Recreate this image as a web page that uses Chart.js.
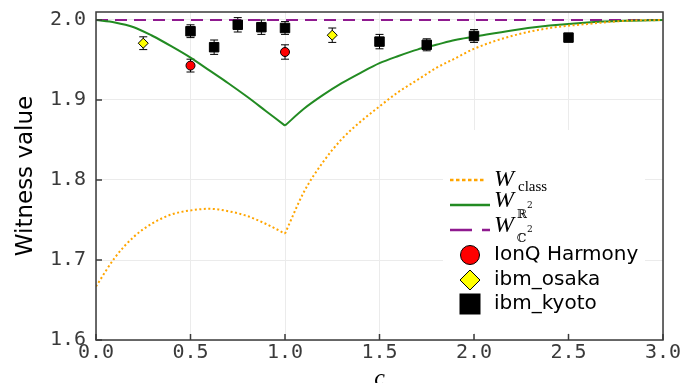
<!DOCTYPE html>
<html>
<head>
<meta charset="utf-8">
<script src="https://cdn.jsdelivr.net/npm/chart.js@4.4.1/dist/chart.umd.min.js"></script>
<style>
    html, body { margin: 0; padding: 0; background: #fff; }
    canvas { display: block; }
</style>
</head>
<body>
<canvas id="witnessChart" width="698" height="383"></canvas>
<script>
// curves (both have a kink at c = 1)
var curveC = [0, 0.1, 0.2, 0.3, 0.4, 0.5, 0.6, 0.7, 0.8, 0.9, 1.0, 1.1, 1.2, 1.3, 1.4, 1.5, 1.6, 1.7, 1.8, 1.9, 2.0, 2.2, 2.4, 2.6, 2.8, 3.0];
var wClass = [1.667, 1.703, 1.729, 1.746, 1.757, 1.762, 1.764, 1.761, 1.755, 1.745, 1.733, 1.785, 1.822, 1.851, 1.873, 1.892, 1.910, 1.925, 1.940, 1.952, 1.964, 1.980, 1.990, 1.995, 1.999, 2.000];
var wR2 = [2.000, 1.997, 1.991, 1.980, 1.967, 1.953, 1.937, 1.921, 1.904, 1.886, 1.868, 1.889, 1.906, 1.921, 1.934, 1.946, 1.955, 1.963, 1.969, 1.975, 1.979, 1.987, 1.993, 1.997, 1.999, 2.000];
var c2C = [0, 3];
var wC2 = [2.0, 2.0];

// measured points
var ionqC = [0.5, 1.0];
var ionqW = [1.943, 1.960];
var ionqErr = [0.008, 0.009];

var osakaC = [0.25, 1.25];
var osakaW = [1.971, 1.981];
var osakaErr = [0.008, 0.009];

var kyotoC = [0.5, 0.625, 0.75, 0.875, 1.0, 1.5, 1.75, 2.0, 2.5];
var kyotoW = [1.986, 1.966, 1.994, 1.991, 1.990, 1.973, 1.969, 1.980, 1.978];
var kyotoErr = [0.008, 0.009, 0.009, 0.009, 0.008, 0.009, 0.0075, 0.008, 0];

var xTicks = [0, 0.5, 1.0, 1.5, 2.0, 2.5, 3.0];
var yTicks = [1.6, 1.7, 1.8, 1.9, 2.0];

var KINK = curveC.indexOf(1.0);

function pts(xs, ys) {
    return xs.map(function (x, i) { return { x: x, y: ys[i] }; });
}
function leftOf(xs, ys) { return pts(xs.slice(0, KINK + 1), ys.slice(0, KINK + 1)); }
function rightOf(xs, ys) { return pts(xs.slice(KINK), ys.slice(KINK)); }

var AXIS = '#3a3a3a';
var TICKFONT = { family: '"DejaVu Sans Mono", monospace', size: 20 };
var ORANGE = '#ffa500', GREEN = '#228b22', PURPLE = '#8f1a8f';

// legend background + error bars, under the markers
var errorBarPlugin = {
    id: 'errorBars',
    beforeDatasetsDraw: function (chart) {
        var ctx = chart.ctx, ys = chart.scales.y, a = chart.chartArea;

        ctx.save();
        ctx.fillStyle = '#fff';
        ctx.fillRect(a.right - 220, a.top + 118, 202, 203);
        ctx.restore();

        chart.data.datasets.forEach(function (ds, di) {
            if (!ds.errorBars) return;
            var meta = chart.getDatasetMeta(di);
            ctx.save();
            ctx.strokeStyle = '#000';
            ctx.lineWidth = 1;
            meta.data.forEach(function (p, i) {
                var e = ds.errorBars[i];
                if (!e) return;
                var y0 = ys.getPixelForValue(ds.data[i].y - e);
                var y1 = ys.getPixelForValue(ds.data[i].y + e);
                ctx.beginPath();
                ctx.moveTo(p.x, y0); ctx.lineTo(p.x, y1);
                ctx.moveTo(p.x - 4, y0); ctx.lineTo(p.x + 4, y0);
                ctx.moveTo(p.x - 4, y1); ctx.lineTo(p.x + 4, y1);
                ctx.stroke();
            });
            ctx.restore();
        });
    }
};

// frame, inward ticks and the legend
var framePlugin = {
    id: 'frameLegend',
    afterDraw: function (chart) {
        var ctx = chart.ctx, a = chart.chartArea;
        var xs = chart.scales.x, ys = chart.scales.y;
        ctx.save();
        ctx.strokeStyle = AXIS;
        ctx.lineWidth = 1.5;
        ctx.strokeRect(a.left, a.top, a.right - a.left, a.bottom - a.top);
        ctx.beginPath();
        yTicks.forEach(function (v) {
            var y = ys.getPixelForValue(v);
            ctx.moveTo(a.left, y); ctx.lineTo(a.left + 6, y);
        });
        xTicks.forEach(function (v) {
            var x = xs.getPixelForValue(v);
            ctx.moveTo(x, a.bottom); ctx.lineTo(x, a.bottom - 6);
        });
        ctx.stroke();

        // legend
        var lx = a.right - 213, tx = a.right - 169;
        var rows = [a.top + 168, a.top + 193, a.top + 218];

        function lineSample(color, y, dash, len) {
            ctx.save();
            ctx.strokeStyle = color;
            ctx.lineWidth = 2.5;
            ctx.setLineDash(dash);
            ctx.beginPath();
            ctx.moveTo(lx, y); ctx.lineTo(lx + len, y);
            ctx.stroke();
            ctx.restore();
        }
        lineSample(ORANGE, rows[0], [3.5, 2.5], 36);
        lineSample(GREEN, rows[1], [], 40);
        lineSample(PURPLE, rows[2], [22, 10], 40);

        ctx.fillStyle = '#000';
        ctx.textBaseline = 'alphabetic';
        ctx.textAlign = 'left';
        ctx.font = 'italic 24px "Liberation Serif", serif';
        ctx.fillText('W', tx, rows[0] + 6);
        ctx.fillText('W', tx, rows[1] + 2);
        ctx.fillText('W', tx, rows[2] + 2);
        ctx.font = '15px "Liberation Serif", serif';
        ctx.fillText('class', tx + 24, rows[0] + 11);
        ctx.font = '12px "DejaVu Serif", serif';
        ctx.fillText('\u211D', tx + 23, rows[1] + 13);
        ctx.fillText('\u2102', tx + 23, rows[2] + 12);
        ctx.font = '9px "DejaVu Serif", serif';
        ctx.fillText('2', tx + 33, rows[1] + 3);
        ctx.fillText('2', tx + 33, rows[2] + 2);

        // marker entries
        var mx = lx + 20;
        var mRows = [a.top + 243, a.top + 268, a.top + 292];
        ctx.lineWidth = 1;
        ctx.strokeStyle = '#000';

        ctx.fillStyle = chart.data.datasets[0].backgroundColor;
        ctx.beginPath();
        ctx.arc(mx, mRows[0], 9.5, 0, Math.PI * 2);
        ctx.fill(); ctx.stroke();

        ctx.fillStyle = chart.data.datasets[1].backgroundColor;
        ctx.beginPath();
        ctx.moveTo(mx - 10, mRows[1]); ctx.lineTo(mx, mRows[1] - 10);
        ctx.lineTo(mx + 10, mRows[1]); ctx.lineTo(mx, mRows[1] + 10);
        ctx.closePath();
        ctx.fill(); ctx.stroke();

        ctx.fillStyle = chart.data.datasets[2].backgroundColor;
        ctx.fillRect(mx - 10.5, mRows[2] - 10.5, 21, 21);

        ctx.fillStyle = '#000';
        ctx.font = '20px "DejaVu Sans", sans-serif';
        ctx.textBaseline = 'middle';
        for (var i = 0; i < 3; i++) {
            ctx.fillText(chart.data.datasets[i].label, tx, mRows[i]);
        }
        ctx.restore();
    }
};

function curve(label, data, color, dash) {
    return {
        label: label,
        data: data,
        showLine: true,
        pointRadius: 0,
        borderColor: color,
        borderWidth: 2,
        borderDash: dash,
        cubicInterpolationMode: 'monotone'
    };
}

var ctxW = document.getElementById('witnessChart').getContext('2d');
var witnessChart = new Chart(ctxW, {
    type: 'scatter',
    data: {
        datasets: [{
            label: 'IonQ Harmony',
            data: pts(ionqC, ionqW),
            errorBars: ionqErr,
            pointStyle: 'circle',
            pointRadius: 4.5,
            backgroundColor: '#ff0000',
            borderColor: '#000',
            borderWidth: 1
        }, {
            label: 'ibm_osaka',
            data: pts(osakaC, osakaW),
            errorBars: osakaErr,
            pointStyle: 'rectRot',
            pointRadius: 5,
            backgroundColor: '#ffff00',
            borderColor: '#000',
            borderWidth: 1
        }, {
            label: 'ibm_kyoto',
            data: pts(kyotoC, kyotoW),
            errorBars: kyotoErr,
            pointStyle: 'rect',
            pointRadius: 6.7,
            backgroundColor: '#000',
            borderColor: '#000',
            borderWidth: 1
        },
        curve('W_class', leftOf(curveC, wClass), ORANGE, [2, 2.5]),
        curve('W_class', rightOf(curveC, wClass), ORANGE, [2, 2.5]),
        curve('W_R2', leftOf(curveC, wR2), GREEN, []),
        curve('W_R2', rightOf(curveC, wR2), GREEN, []),
        curve('W_C2', pts(c2C, wC2), PURPLE, [12, 7])]
    },
    options: {
        responsive: false,
        animation: false,
        layout: { padding: { top: 12, right: 35, left: 0, bottom: 0 } },
        plugins: {
            legend: { display: false },
            tooltip: { enabled: false }
        },
        scales: {
            x: {
                type: 'linear',
                min: 0,
                max: 3,
                afterBuildTicks: function (s) { s.ticks = xTicks.map(function (v) { return { value: v }; }); },
                afterFit: function (s) { s.height = 43; s.paddingLeft = 0; s.paddingRight = 0; },
                grid: { color: '#ebebeb', drawTicks: false },
                border: { display: false },
                ticks: {
                    font: TICKFONT,
                    color: AXIS,
                    padding: 1,
                    maxRotation: 0,
                    autoSkip: false,
                    callback: function (v) { return v.toFixed(1); }
                },
                title: {
                    display: true,
                    text: 'c',
                    color: '#000',
                    font: { family: '"Liberation Serif", serif', style: 'italic', size: 24 },
                    padding: { top: 0, bottom: -10 }
                }
            },
            y: {
                min: 1.6,
                max: 2.01,
                afterBuildTicks: function (s) { s.ticks = yTicks.map(function (v) { return { value: v }; }); },
                afterFit: function (s) { s.width = 96; s.paddingTop = 0; s.paddingBottom = 0; },
                grid: { color: '#ebebeb', drawTicks: false },
                border: { display: false },
                ticks: {
                    font: TICKFONT,
                    color: AXIS,
                    padding: 10,
                    callback: function (v) { return v.toFixed(1); }
                },
                title: {
                    display: true,
                    text: 'Witness value',
                    color: '#000',
                    font: { family: '"DejaVu Sans", sans-serif', size: 23 },
                    padding: { top: 12, bottom: 0 }
                }
            }
        }
    },
    plugins: [errorBarPlugin, framePlugin]
});
</script>
</body>
</html>
